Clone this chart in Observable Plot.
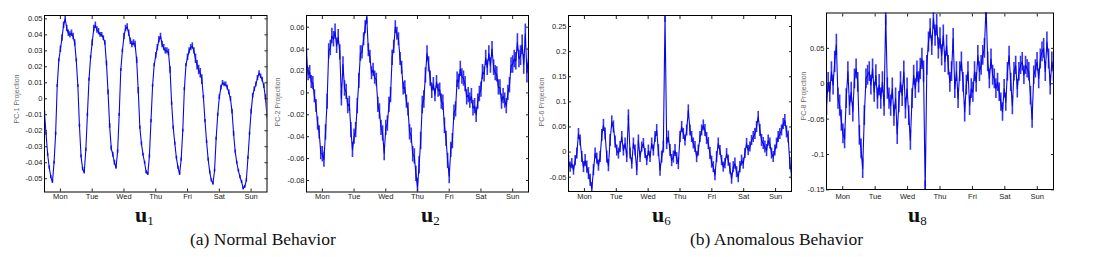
<!DOCTYPE html>
<html>
<head>
<meta charset="utf-8">
<script src="https://cdn.jsdelivr.net/npm/d3@7"></script>
<script src="https://cdn.jsdelivr.net/npm/@observablehq/plot@0.6"></script>
<style>
  html, body { margin: 0; padding: 0; background: #fff; }
  #root { position: relative; width: 1112px; height: 257px; overflow: hidden; background: #fff; }
  .ylab { position: absolute; font: 7px "Liberation Sans", Arial, sans-serif; color: #6a6a6a; white-space: nowrap;
          transform: translate(-50%, -50%) rotate(-90deg); }
  svg.txt { position: absolute; left: 0; top: 0; }
  svg.txt text { font-family: "Liberation Serif", "Times New Roman", "DejaVu Serif", serif; fill: #111; }
</style>
</head>
<body>
<div id="root"></div>
<script>
// ---------- data ----------
const days = ["Mon", "Tue", "Wed", "Thu", "Fri", "Sat", "Sun"];
const dayTicks = [0.5, 1.5, 2.5, 3.5, 4.5, 5.5, 6.5];

const pc1 = [
  -0.009,-0.022,-0.035,-0.043,-0.049,-0.052,-0.040,-0.022,0.008,0.024,0.031,0.038,0.046,0.050,0.044,0.041,0.040,0.041,0.039,0.035,
  0.024,0.008,-0.017,-0.036,-0.044,-0.046,-0.032,-0.010,0.012,0.026,0.035,0.044,0.046,0.043,0.042,0.040,0.040,0.038,0.035,0.022,
  0.004,-0.017,-0.031,-0.035,-0.040,-0.043,-0.033,-0.010,0.018,0.030,0.039,0.044,0.045,0.041,0.036,0.034,0.035,0.034,0.024,0.005,
  -0.018,-0.028,-0.035,-0.040,-0.046,-0.047,-0.036,-0.014,0.008,0.021,0.027,0.032,0.037,0.039,0.034,0.032,0.030,0.030,0.029,0.018,
  -0.003,-0.018,-0.028,-0.037,-0.043,-0.047,-0.038,-0.020,0.006,0.021,0.026,0.030,0.032,0.033,0.030,0.025,0.021,0.018,0.016,0.012,
  0.001,-0.014,-0.027,-0.038,-0.046,-0.051,-0.053,-0.045,-0.025,-0.010,0.001,0.007,0.010,0.009,0.009,0.007,0.004,0.000,-0.008,-0.022,
  -0.033,-0.040,-0.045,-0.049,-0.052,-0.056,-0.055,-0.051,-0.037,-0.022,-0.008,0.002,0.006,0.009,0.013,0.016,0.014,0.012,0.008,0.001,-0.011
];

const pc2 = [
  0.034,0.017,0.019,0.010,0.009,-0.003,-0.012,-0.028,-0.036,-0.055,-0.056,-0.061,-0.036,-0.008,0.038,0.041,0.052,0.049,0.056,0.043,
  0.051,0.037,-0.005,0.026,0.004,0.001,-0.012,-0.010,-0.034,-0.052,-0.040,-0.034,-0.012,0.011,0.036,0.037,0.049,0.060,0.069,0.039,
  0.033,0.018,0.021,0.014,0.012,-0.011,-0.017,-0.032,-0.037,-0.055,-0.032,-0.028,-0.011,-0.002,0.032,0.042,0.060,0.054,0.049,0.031,
  0.023,0.004,0.005,-0.008,-0.015,-0.036,-0.039,-0.056,-0.058,-0.074,-0.086,-0.066,-0.044,-0.011,-0.006,0.016,0.036,0.026,0.013,0.002,
  0.008,-0.002,0.010,0.002,0.003,-0.008,-0.009,-0.030,-0.042,-0.062,-0.076,-0.052,-0.044,-0.018,-0.015,0.012,0.010,0.022,0.015,0.013,
  0.008,-0.004,-0.002,-0.007,-0.003,-0.014,-0.012,-0.020,-0.008,-0.001,0.003,0.019,0.017,0.032,0.023,0.036,0.025,0.040,0.023,0.018,
  0.017,0.005,0.005,-0.008,-0.003,-0.007,-0.012,0.000,0.007,0.025,0.026,0.031,0.029,0.046,0.031,0.034,0.044,0.026,0.054,0.018,0.032
];

const pc6 = [
  -0.017,-0.030,-0.023,-0.036,-0.017,-0.003,0.036,0.023,-0.010,-0.030,
  -0.017,-0.030,-0.043,-0.056,-0.073,-0.036,-0.003,-0.013,-0.027,-0.010,
  0.033,0.053,0.036,-0.010,-0.027,0.023,0.060,0.050,0.020,0.003,
  -0.003,0.010,0.030,0.003,0.017,-0.010,0.073,-0.003,-0.023,0.017,
  0.003,-0.036,0.023,-0.010,0.010,0.017,-0.003,-0.017,0.003,-0.010,
  0.017,0.003,0.030,0.043,0.003,-0.036,-0.010,0.010,0.270,0.017,
  0.030,0.003,-0.017,-0.010,0.003,-0.013,-0.023,0.030,0.050,0.036,
  0.023,0.043,0.083,0.043,0.030,0.017,0.010,-0.010,0.003,0.030,
  0.043,0.053,0.043,0.027,0.017,-0.003,-0.020,-0.030,-0.046,-0.010,
  0.017,0.003,-0.017,-0.030,-0.023,-0.003,-0.017,-0.033,-0.053,-0.030,
  -0.023,-0.040,-0.050,-0.030,-0.017,-0.023,-0.003,0.017,0.003,0.010,
  0.023,0.030,0.036,0.050,0.070,0.043,0.023,0.017,0.010,0.003,
  0.023,0.017,-0.003,-0.010,0.003,0.017,0.030,0.036,0.043,0.056,
  0.063,0.040,0.030,-0.023,-0.043
];

const pc8 = [
  -0.031,0.002,-0.012,0.017,-0.002,0.031,0.055,-0.021,-0.031,-0.052,
  -0.071,-0.078,-0.021,0.017,-0.031,-0.012,-0.040,0.007,0.021,0.002,
  -0.073,-0.092,-0.120,-0.045,0.007,0.012,0.017,-0.002,0.021,-0.012,
  0.012,-0.021,-0.002,-0.021,0.002,-0.031,0.097,-0.007,-0.021,-0.031,
  -0.007,-0.045,-0.021,-0.071,-0.026,0.002,-0.017,0.017,-0.035,-0.007,
  -0.045,-0.080,-0.021,0.012,-0.007,0.017,0.002,0.021,0.035,0.017,
  -0.151,0.026,0.059,0.078,0.054,0.092,0.068,0.083,0.050,0.064,
  0.040,0.068,0.031,0.054,0.026,0.002,0.017,0.064,-0.007,0.017,
  -0.021,0.017,0.031,0.002,-0.040,-0.002,0.017,-0.031,-0.007,-0.012,
  0.017,0.002,0.040,0.017,0.026,0.040,0.050,0.110,0.031,0.007,
  0.035,0.012,0.007,-0.007,0.002,-0.012,-0.026,-0.040,-0.007,-0.026,
  0.017,0.040,0.002,-0.031,0.017,0.026,-0.007,0.017,0.026,0.031,
  0.012,0.026,0.021,0.017,-0.017,-0.050,0.012,0.021,0.031,0.007,
  0.035,0.045,0.050,0.017,0.059,0.035,-0.002,0.031,0.017
];

// half-width of the fast noise band, per quarter day (28 values per series)
const noise1 = [0.001,0.001,0.002,0.002, 0.001,0.001,0.002,0.0015, 0.0015,0.001,0.002,0.002, 0.001,0.001,0.002,0.002,
                0.001,0.001,0.002,0.003, 0.001,0.001,0.0015,0.0015, 0.001,0.001,0.0015,0.0015];
const noise2 = [0.006,0.006,0.007,0.007, 0.007,0.007,0.007,0.006, 0.006,0.007,0.007,0.006, 0.006,0.007,0.008,0.007,
                0.006,0.007,0.007,0.007, 0.007,0.007,0.007,0.007, 0.007,0.007,0.008,0.009];
const noise6 = [0.010,0.011,0.012,0.011, 0.012,0.012,0.011,0.011, 0.011,0.010,0.011,0.012, 0.012,0.012,0.011,0.011,
                0.011,0.012,0.011,0.010, 0.011,0.011,0.010,0.011, 0.012,0.011,0.011,0.012];
const noise8 = [0.014,0.015,0.014,0.014, 0.014,0.014,0.015,0.015, 0.015,0.015,0.014,0.015, 0.014,0.015,0.015,0.014,
                0.014,0.014,0.014,0.014, 0.014,0.013,0.013,0.013, 0.013,0.013,0.014,0.014];

const ticks1 = [-0.05,-0.04,-0.03,-0.02,-0.01,0,0.01,0.02,0.03,0.04,0.05];
const ticks2 = [-0.08,-0.06,-0.04,-0.02,0,0.02,0.04,0.06];
const ticks6 = [-0.05,0,0.05,0.1,0.15,0.2,0.25];
const ticks8 = [-0.15,-0.1,-0.05,0,0.05];

const yLabels = ["PC-1 Projection", "PC-2 Projection", "PC-6 Projection", "PC-8 Projection"];

// ---------- drawing ----------
const root = document.getElementById("root");
const fmt = d => String(d);

function panel(values, noise, yDomain, yTicks, L, R, T, B, xPad) {
  const n = values.length;
  const data = values.map((v, i) => {
    const t = i * 7 / (n - 1);
    const s = noise[Math.min(noise.length - 1, Math.floor(t * 4))];
    return {t, v, lo: v - s, hi: v + s};
  });
  const mL = 40, mR = 6, mB = 24;
  const svg = Plot.plot({
    width: (R - L) + mL + mR,
    height: B + mB,
    marginLeft: mL, marginRight: mR, marginTop: T, marginBottom: mB,
    style: {fontFamily: "'Liberation Sans', Arial, sans-serif", fontSize: "7.5px", color: "#222", background: "transparent", overflow: "visible"},
    x: {domain: [0, 7]},
    y: {domain: yDomain},
    marks: [
      Plot.ruleX(data, {x: "t", y1: "lo", y2: "hi", stroke: "#3434f4", strokeWidth: 1.6, clip: true}),
      Plot.line(data, {x: "t", y: "v", stroke: "#0606e6", strokeWidth: 1.1, clip: true}),
      Plot.frame({stroke: "#000", strokeWidth: 1}),
      Plot.axisY(yTicks, {anchor: "left", tickSize: -3, tickPadding: 5, tickFormat: fmt, label: null}),
      Plot.axisY(yTicks, {anchor: "right", tickSize: -3, tickFormat: () => "", label: null}),
      Plot.axisX(dayTicks, {anchor: "bottom", tickSize: -3, tickPadding: xPad, tickFormat: d => days[Math.round(d - 0.5)], label: null}),
      Plot.axisX(dayTicks, {anchor: "top", tickSize: -3, tickFormat: () => "", label: null})
    ]
  });
  svg.style.position = "absolute";
  svg.style.left = (L - mL) + "px";
  svg.style.top = "0px";
  root.appendChild(svg);
}

panel(pc1, noise1, [-0.0583, 0.0521], ticks1, 44, 266.5, 15, 191.5, 5);
panel(pc2, noise2, [-0.0905, 0.0707], ticks2, 306, 528, 15, 191.5, 5);
panel(pc6, noise6, [-0.0785, 0.2719], ticks6, 568, 791, 15, 191, 5.5);
panel(pc8, noise8, [-0.1495, 0.100], ticks8, 826, 1053, 12.5, 189, 7.5);

// y-axis labels
const yLabPos = [[16, 99], [277, 102], [541, 102], [803, 96]];
yLabels.forEach((s, i) => {
  const d = document.createElement("div");
  d.className = "ylab";
  d.textContent = s;
  d.style.left = yLabPos[i][0] + "px";
  d.style.top = yLabPos[i][1] + "px";
  root.appendChild(d);
});

// panel names and captions
const ns = "http://www.w3.org/2000/svg";
const txt = document.createElementNS(ns, "svg");
txt.setAttribute("class", "txt");
txt.setAttribute("width", 1112);
txt.setAttribute("height", 257);
const names = [["1", 135], ["2", 421], ["6", 652], ["8", 908]];
names.forEach(([sub, x]) => {
  const t = document.createElementNS(ns, "text");
  t.setAttribute("x", x);
  t.setAttribute("y", 221.5);
  t.setAttribute("font-size", "22");
  t.setAttribute("font-weight", "bold");
  const a = document.createElementNS(ns, "tspan");
  a.textContent = "u";
  const b = document.createElementNS(ns, "tspan");
  b.textContent = sub;
  b.setAttribute("font-size", "13");
  b.setAttribute("font-weight", "normal");
  b.setAttribute("dy", "3");
  t.appendChild(a); t.appendChild(b);
  txt.appendChild(t);
});
const caps = [["(a) Normal Behavior", 190], ["(b) Anomalous Behavior", 690]];
caps.forEach(([s, x]) => {
  const t = document.createElementNS(ns, "text");
  t.setAttribute("x", x);
  t.setAttribute("y", 245);
  t.setAttribute("font-size", "17.5");
  t.textContent = s;
  txt.appendChild(t);
});
root.appendChild(txt);
</script>
</body>
</html>
